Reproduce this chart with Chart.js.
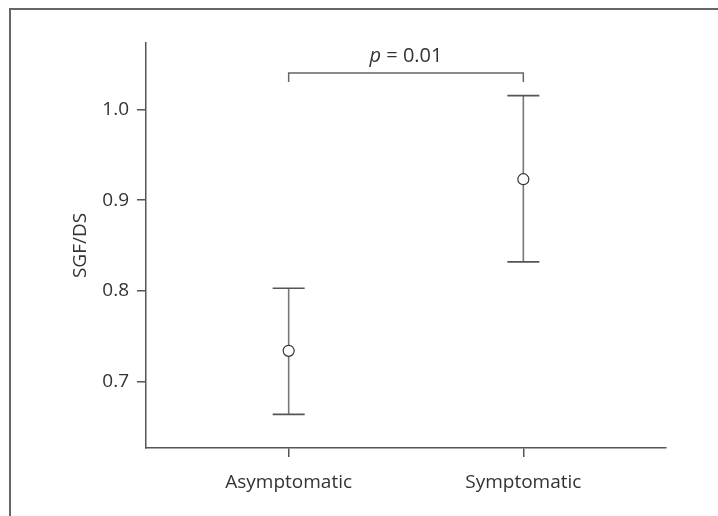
<!DOCTYPE html>
<html>
<head>
<meta charset="utf-8">
<script src="https://cdn.jsdelivr.net/npm/chart.js@4"></script>
<style>
  body { margin: 0; background: #fff; }
  canvas { display: block; }
</style>
</head>
<body>
<canvas id="myChart" width="718" height="516"></canvas>
<script>
// data
const groups = ['Asymptomatic', 'Symptomatic'];
const means = [0.734, 0.923];
const lower = [0.664, 0.832];
const upper = [0.803, 1.015];
const yTicks = [0.7, 0.8, 0.9, 1.0];
const bracketLow = 1.030, bracketHigh = 1.040;
const pText = '0.01';

const ink = '#555';
const font = '"Open Sans", sans-serif';

// stems, caps and means, one dataset per kind
const stems = groups.map(function (g, i) {
    return {
        type: 'line',
        data: [{ x: i, y: lower[i] }, { x: i, y: upper[i] }],
        borderColor: '#777', borderWidth: 1.6, pointRadius: 0, order: 3
    };
});

const caps = {
    type: 'scatter',
    data: groups.map((g, i) => ({ x: i, y: lower[i] })).concat(groups.map((g, i) => ({ x: i, y: upper[i] }))),
    pointStyle: 'line', pointRadius: 16, borderColor: ink, borderWidth: 1.6, order: 2
};

const dots = {
    type: 'scatter',
    data: groups.map((g, i) => ({ x: i, y: means[i] })),
    pointStyle: 'circle', pointRadius: 5.5, backgroundColor: '#fff',
    borderColor: '#333', borderWidth: 1.2, order: 1
};

const bracket = {
    type: 'line',
    data: [{ x: 0, y: bracketLow }, { x: 0, y: bracketHigh }, { x: 1, y: bracketHigh }, { x: 1, y: bracketLow }],
    borderColor: '#666', borderWidth: 1.5, pointRadius: 0, order: 4
};

// frame, y title and the p label
const extras = {
    id: 'extras',
    beforeDraw(chart) {
        const c = chart.ctx;
        c.save();
        c.fillStyle = '#fff';
        c.fillRect(0, 0, chart.width, chart.height);
        c.strokeStyle = '#666';
        c.lineWidth = 2;
        c.beginPath();
        c.moveTo(10, chart.height);
        c.lineTo(10, 9);
        c.lineTo(chart.width, 9);
        c.stroke();
        c.restore();
    },
    afterDraw(chart) {
        const c = chart.ctx;
        const x = chart.scales.x, y = chart.scales.y;
        c.save();
        c.fillStyle = '#333';
        // y title
        c.translate(81, (chart.chartArea.top + chart.chartArea.bottom) / 2);
        c.rotate(-Math.PI / 2);
        c.font = '19px ' + font;
        c.textAlign = 'center';
        c.textBaseline = 'middle';
        c.fillText('SGF/DS', 0, 0);
        c.restore();

        c.save();
        c.fillStyle = '#333';
        const mid = (x.getPixelForValue(0) + x.getPixelForValue(1)) / 2;
        const base = y.getPixelForValue(bracketHigh) - 11;
        c.textBaseline = 'alphabetic';
        c.font = 'italic 20px ' + font;
        const pw = c.measureText('p').width;
        c.font = '20px ' + font;
        const rest = ' = ' + pText;
        const rw = c.measureText(rest).width;
        let left = mid - (pw + rw) / 2;
        c.font = 'italic 20px ' + font;
        c.textAlign = 'left';
        c.fillText('p', left, base);
        c.font = '20px ' + font;
        c.fillText(rest, left + pw, base);
        c.restore();
    }
};

new Chart(document.getElementById('myChart'), {
    data: { datasets: stems.concat([caps, dots, bracket]) },
    options: {
        responsive: false,
        animation: false,
        devicePixelRatio: 1,
        layout: { padding: { top: 43, right: 52, left: 0, bottom: 0 } },
        plugins: { legend: { display: false }, tooltip: { enabled: false } },
        scales: {
            x: {
                type: 'linear', min: -0.608, max: 1.608,
                afterBuildTicks: function (s) { s.ticks = groups.map((g, i) => ({ value: i })); },
                afterFit: function (s) { s.height = 68; },
                ticks: {
                    callback: function (v) { return groups[v]; },
                    font: { family: font, size: 19 }, color: '#333', padding: 14, maxRotation: 0
                },
                grid: { drawOnChartArea: false, drawTicks: true, tickLength: 9, color: ink, lineWidth: 1.5 },
                border: { display: true, color: ink, width: 1.5 }
            },
            y: {
                type: 'linear', min: 0.627, max: 1.073,
                afterBuildTicks: function (s) { s.ticks = yTicks.map(v => ({ value: v })); },
                afterFit: function (s) { s.width = 146; },
                ticks: {
                    callback: function (v) { return v.toFixed(1); },
                    font: { family: font, size: 19 }, color: '#333', padding: 8
                },
                grid: { drawOnChartArea: false, drawTicks: true, tickLength: 9, color: ink, lineWidth: 1.5 },
                border: { display: true, color: ink, width: 1.5 }
            }
        }
    },
    plugins: [extras]
});
</script>
</body>
</html>
